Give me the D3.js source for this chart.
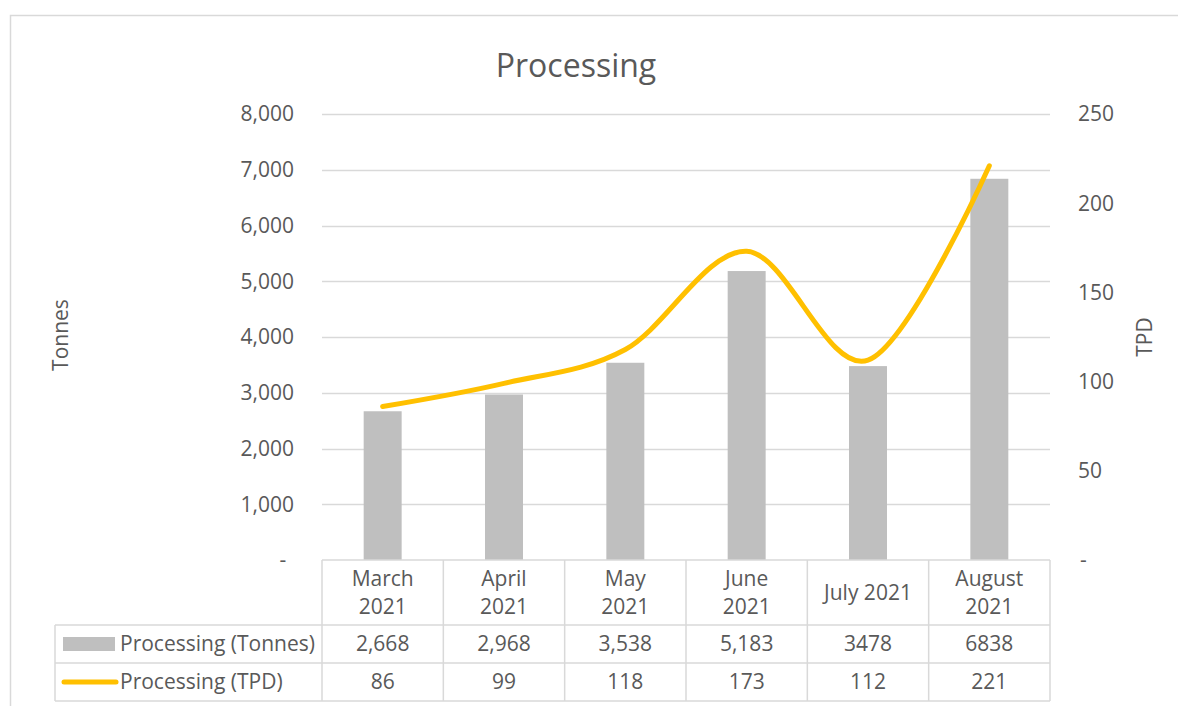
<!DOCTYPE html>
<html>
<head>
<meta charset="utf-8">
<script src="https://cdn.jsdelivr.net/npm/d3@7"></script>
<style>
  html, body { margin: 0; padding: 0; background: #fff; }
  svg { display: block; font-family: "Open Sans", sans-serif; }
  text { fill: #595959; }
</style>
</head>
<body>
<div id="chart"></div>
<script>
var months = [["March", "2021"], ["April", "2021"], ["May", "2021"], ["June", "2021"], ["July 2021"], ["August", "2021"]];
var tonnes = [2668, 2968, 3538, 5183, 3478, 6838];
var tonnesLabels = ["2,668", "2,968", "3,538", "5,183", "3478", "6838"];
var tpd = [86, 99, 118, 173, 112, 221];
var leftTicks = [0, 1000, 2000, 3000, 4000, 5000, 6000, 7000, 8000];
var rightTicks = [0, 50, 100, 150, 200, 250];
var seriesNames = ["Processing (Tonnes)", "Processing (TPD)"];

var W = 1178, H = 706,
    plot = {left: 322, right: 1050, top: 114, bottom: 560},
    rowH = [65, 38, 38],
    legendLeft = 55,
    grid = "#d9d9d9",
    barColor = "#bfbfbf",
    lineColor = "#ffc000";

var svg = d3.select("#chart").append("svg")
    .attr("width", W)
    .attr("height", H);

// chart area border (runs off the right/bottom of the picture)
svg.append("rect")
    .attr("x", 10.5).attr("y", 15.5)
    .attr("width", W + 20).attr("height", H + 20)
    .attr("fill", "none").attr("stroke", grid).attr("stroke-width", 1.5);

var idx = d3.range(months.length);

var x = d3.scaleBand().domain(idx).range([plot.left, plot.right]).padding(0);
var xBar = d3.scaleBand().domain(idx).range([plot.left, plot.right])
    .paddingInner(0.687).paddingOuter(0.687 / 2);
var yL = d3.scaleLinear().domain([0, 8000]).range([plot.bottom, plot.top]);
var yR = d3.scaleLinear().domain([0, 250]).range([plot.bottom, plot.top]);

// gridlines
svg.append("g").selectAll("line")
    .data(leftTicks.filter(function(d) { return d > 0; }))
  .enter().append("line")
    .attr("x1", plot.left).attr("x2", plot.right)
    .attr("y1", function(d) { return Math.round(yL(d)) + 0.5; })
    .attr("y2", function(d) { return Math.round(yL(d)) + 0.5; })
    .attr("stroke", grid).attr("stroke-width", 1.5);

// left axis labels
svg.append("g").selectAll("text")
    .data(leftTicks)
  .enter().append("text")
    .attr("x", function(d) { return d === 0 ? 283 : 294; })
    .attr("y", function(d) { return yL(d); })
    .attr("dy", "0.35em")
    .attr("text-anchor", function(d) { return d === 0 ? "middle" : "end"; })
    .style("font-size", "21px")
    .text(function(d) { return d === 0 ? "-" : d3.format(",")(d); });

// right axis labels
svg.append("g").selectAll("text")
    .data(rightTicks)
  .enter().append("text")
    .attr("x", function(d) { return d === 0 ? 1080 : 1078; })
    .attr("y", function(d) { return yR(d); })
    .attr("dy", "0.35em")
    .attr("text-anchor", "start")
    .style("font-size", "21px")
    .text(function(d) { return d === 0 ? "-" : d; });

// axis titles
svg.append("text")
    .attr("transform", "translate(61,335) rotate(-90)")
    .attr("dy", "0.35em")
    .attr("text-anchor", "middle")
    .style("font-size", "21px")
    .text("Tonnes");

svg.append("text")
    .attr("transform", "translate(1145,337) rotate(-90)")
    .attr("dy", "0.35em")
    .attr("text-anchor", "middle")
    .style("font-size", "21px")
    .text("TPD");

// chart title
svg.append("text")
    .attr("x", (plot.left + plot.right) / 2 - 110)
    .attr("y", 66)
    .attr("dy", "0.35em")
    .attr("text-anchor", "middle")
    .style("font-size", "32px")
    .text("Processing");

// bars
svg.append("g").selectAll("rect")
    .data(tonnes)
  .enter().append("rect")
    .attr("x", function(d, i) { return xBar(i); })
    .attr("width", xBar.bandwidth())
    .attr("y", function(d) { return yL(d); })
    .attr("height", function(d) { return yL(0) - yL(d); })
    .attr("fill", barColor);

// smoothed line
var line = d3.line()
    .x(function(d, i) { return x(i) + x.bandwidth() / 2; })
    .y(function(d) { return yR(d); })
    .curve(d3.curveCardinal.tension(0));

svg.append("path")
    .datum(tpd)
    .attr("d", line)
    .attr("fill", "none")
    .attr("stroke", lineColor)
    .attr("stroke-width", 5)
    .attr("stroke-linecap", "round")
    .attr("stroke-linejoin", "round");

// data table
var t0 = plot.bottom,
    t1 = t0 + rowH[0],
    t2 = t1 + rowH[1],
    t3 = t2 + rowH[2];
var table = svg.append("g").attr("stroke", grid).attr("stroke-width", 1.5);

table.append("line").attr("x1", plot.left).attr("x2", plot.right).attr("y1", t0).attr("y2", t0);
[t1, t2, t3].forEach(function(yy) {
  table.append("line").attr("x1", legendLeft).attr("x2", plot.right).attr("y1", yy).attr("y2", yy);
});
table.append("line").attr("x1", legendLeft).attr("x2", legendLeft).attr("y1", t1).attr("y2", t3);
idx.concat([months.length]).forEach(function(i) {
  var xx = i < months.length ? x(i) : plot.right;
  table.append("line").attr("x1", xx).attr("x2", xx).attr("y1", t0).attr("y2", t3);
});

// header cells
var header = svg.append("g").selectAll("text")
    .data(months)
  .enter().append("text")
    .attr("text-anchor", "middle")
    .style("font-size", "21px");
header.each(function(lines, i) {
  var cx = x(i) + x.bandwidth() / 2,
      cy = (t0 + t1) / 2,
      step = 28;
  d3.select(this).selectAll("tspan")
      .data(lines)
    .enter().append("tspan")
      .attr("x", cx)
      .attr("y", function(d, j) { return cy + (j - (lines.length - 1) / 2) * step; })
      .attr("dy", "0.35em")
      .text(function(d) { return d; });
});

// value rows
[[tonnesLabels, (t1 + t2) / 2], [tpd, (t2 + t3) / 2]].forEach(function(row) {
  svg.append("g").selectAll("text")
      .data(row[0])
    .enter().append("text")
      .attr("x", function(d, i) { return x(i) + x.bandwidth() / 2; })
      .attr("y", row[1])
      .attr("dy", "0.35em")
      .attr("text-anchor", "middle")
      .style("font-size", "21px")
      .text(function(d) { return d; });
});

// legend keys in the table
svg.append("rect")
    .attr("x", 63).attr("y", (t1 + t2) / 2 - 7)
    .attr("width", 52).attr("height", 14)
    .attr("fill", barColor);
svg.append("line")
    .attr("x1", 64).attr("x2", 116)
    .attr("y1", (t2 + t3) / 2).attr("y2", (t2 + t3) / 2)
    .attr("stroke", lineColor).attr("stroke-width", 5)
    .attr("stroke-linecap", "round");

svg.append("g").selectAll("text")
    .data(seriesNames)
  .enter().append("text")
    .attr("x", 120)
    .attr("y", function(d, i) { return i === 0 ? (t1 + t2) / 2 : (t2 + t3) / 2; })
    .attr("dy", "0.35em")
    .style("font-size", "21px")
    .text(function(d) { return d; });
</script>
</body>
</html>
